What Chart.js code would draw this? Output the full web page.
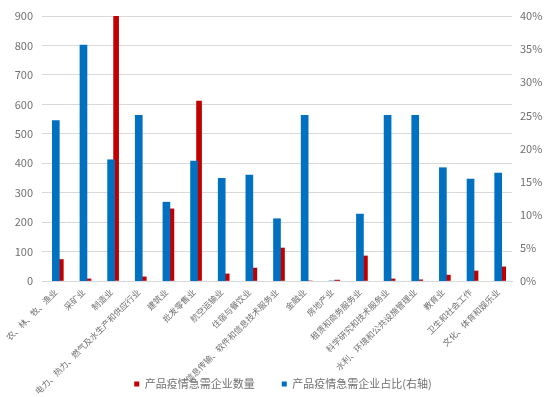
<!DOCTYPE html>
<html>
<head>
<meta charset="utf-8">
<script src="https://cdn.jsdelivr.net/npm/chart.js@4"></script>
<style>
  html, body { margin: 0; padding: 0; background: #fff; }
  #wrap { width: 554px; height: 397px; }
</style>
</head>
<body>
<div id="wrap"><canvas id="myChart" width="554" height="397"></canvas></div>
<script>
const industries = [
    '农、林、牧、渔业', '采矿业', '制造业', '电力、热力、燃气及水生产和供应行业', '建筑业',
    '批发零售业', '航空运输业', '住宿与餐饮业', '信息传输、软件和信息技术服务业', '金融业',
    '房地产业', '租赁和商务服务业', '科学研究和技术服务业', '水利、环境和公共设施管理业',
    '教育业', '卫生和社会工作', '文化、体育和娱乐业'
];
const urgentCounts = [73, 7, 900, 14, 245, 611, 24, 44, 112, 0, 3, 85, 7, 4, 20, 34, 48];
const urgentShare = [24.2, 35.6, 18.3, 25, 11.9, 18.1, 15.5, 16.0, 9.4, 25, 0, 10.1, 25, 25, 17.1, 15.4, 16.3];
const countTicks = [0, 900, 100];
const shareTicks = [0, 40, 5];

const FONT = "'Noto Sans CJK SC', 'Noto Sans', sans-serif";
const GREY = '#707070';

// empty series only used to push the red bars to the right of the blue ones (like the excel file)
const spacer = () => ({ label: '', data: industries.map(() => null), barThickness: 5, yAxisID: 'y' });

// tick labels of the x axis run into the legend row, so don't clip them to the axis box
const unclipLabels = {
    id: 'unclipLabels',
    afterLayout: (chart) => { chart.scales.x.bottom = chart.height; },
};

const createChart = () => {
    const ctx = document.getElementById('myChart').getContext('2d');
    new Chart(ctx, {
        type: 'bar',
        data: {
            labels: industries,
            datasets: [
                {
                    label: '产品疫情急需企业占比(右轴)',
                    data: urgentShare,
                    backgroundColor: '#0070C0',
                    barThickness: 7,
                    grouped: false,
                    yAxisID: 'y1',
                },
                spacer(),
                spacer(),
                {
                    label: '产品疫情急需企业数量',
                    data: urgentCounts,
                    backgroundColor: '#C00000',
                    barThickness: 5,
                    yAxisID: 'y',
                },
            ],
        },
        plugins: [unclipLabels],
        options: {
            responsive: false,
            animation: false,
            layout: { padding: { top: 16, left: 12, right: 0, bottom: -2.5 } },
            plugins: {
                tooltip: { enabled: false },
                legend: {
                    position: 'bottom',
                    labels: {
                        boxWidth: 5,
                        boxHeight: 5,
                        padding: 27,
                        color: GREY,
                        font: { family: FONT, size: 11 },
                        filter: (item) => item.text !== '',
                        sort: (a, b) => b.datasetIndex - a.datasetIndex,
                    },
                },
            },
            scales: {
                x: {
                    grid: { display: false, drawTicks: false },
                    border: { color: '#d9d9d9' },
                    ticks: {
                        autoSkip: false,
                        maxRotation: 45,
                        minRotation: 45,
                        padding: 6,
                        color: GREY,
                        font: { family: FONT, size: 8.5 },
                    },
                    afterFit: (scale) => { scale.height = 70.5; },
                },
                y: {
                    position: 'left',
                    min: countTicks[0],
                    max: countTicks[1],
                    ticks: { stepSize: countTicks[2], padding: 9, color: GREY, font: { family: FONT, size: 11 } },
                    grid: { color: '#d9d9d9', drawTicks: false },
                    border: { display: false },
                    afterFit: (scale) => { scale.width = 30; },
                },
                y1: {
                    position: 'right',
                    min: shareTicks[0],
                    max: shareTicks[1],
                    ticks: {
                        stepSize: shareTicks[2],
                        padding: 8,
                        color: GREY,
                        font: { family: FONT, size: 11 },
                        callback: (v) => v + '%',
                    },
                    grid: { display: false, drawTicks: false },
                    border: { display: false },
                    afterFit: (scale) => { scale.width = 42; },
                },
            },
        },
    });
};

window.onload = () => {
    createChart();
};
</script>
</body>
</html>
